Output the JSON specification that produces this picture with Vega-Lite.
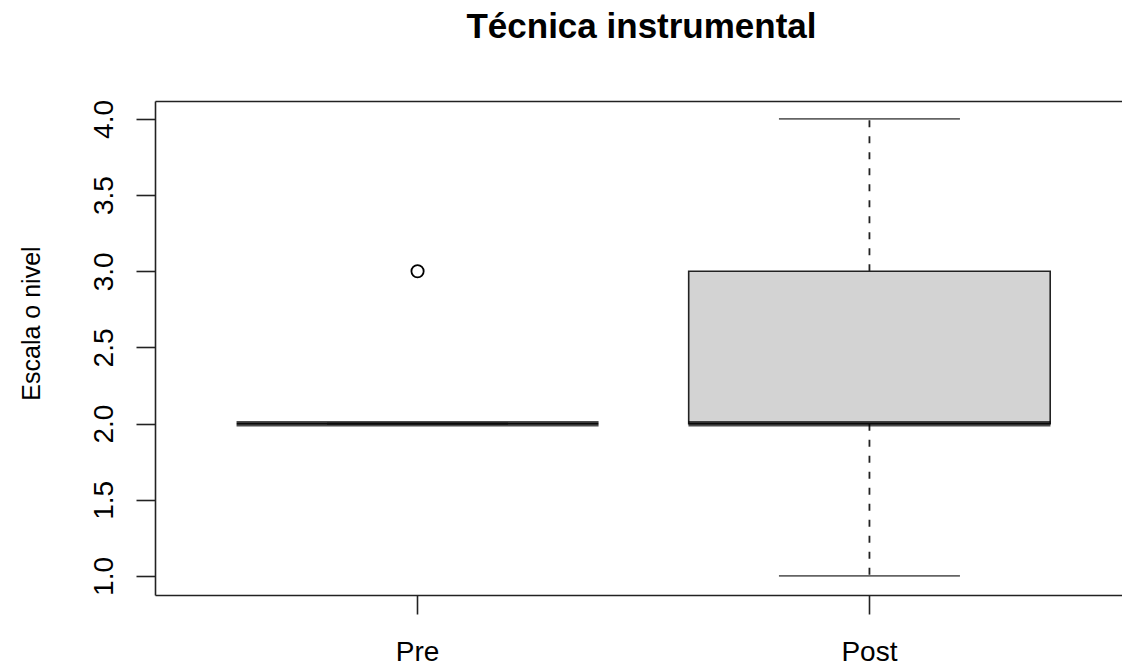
{
  "$schema": "https://vega.github.io/schema/vega-lite/v6.json",
  "width": 967,
  "height": 494,
  "autosize": "none",
  "padding": {"left": 155, "top": 101, "right": 0, "bottom": 71},
  "background": "white",
  "title": {"text": "Técnica instrumental", "font": "Liberation Sans", "fontSize": 35, "fontWeight": "bold", "color": "black", "anchor": "middle", "baseline": "alphabetic", "offset": 27, "dx": 3},
  "config": {
    "view": {"stroke": null},
    "axis": {"grid": false, "labelFont": "Liberation Sans", "titleFont": "Liberation Sans", "labelColor": "black", "titleColor": "black", "labelFontSize": 28, "titleFontSize": 25, "titleFontWeight": "normal", "tickColor": "#222", "tickWidth": 1.6, "domainColor": "#222", "domainWidth": 1.6, "tickSize": 19}
  },
  "datasets": {
    "resumen": [
      {"grupo": "Pre", "min": 2, "q1": 2, "mediana": 2, "q3": 2, "max": 2},
      {"grupo": "Post", "min": 1, "q1": 2, "mediana": 2, "q3": 3, "max": 4}
    ],
    "atipicos": [
      {"grupo": "Pre", "valor": 3}
    ]
  },
  "layer": [
    {
      "data": {"name": "resumen"},
      "mark": {"type": "rule", "strokeDash": [7, 9], "strokeWidth": 1.8, "color": "#222"},
      "encoding": {
        "x": {"field": "grupo", "type": "nominal", "sort": ["Pre", "Post"], "scale": {"type": "band", "range": [0, 977], "paddingInner": 0.2, "paddingOuter": 0.181}, "axis": {"orient": "top", "title": null, "labels": false, "ticks": false, "domain": true}},
        "y": {"field": "q1", "type": "quantitative", "title": "Escala o nivel", "scale": {"domain": [0.875, 4.118], "nice": false, "zero": false},
              "axis": {"values": [1, 1.5, 2, 2.5, 3, 3.5, 4], "format": ".1f", "labelAngle": 270, "labelAlign": "center", "labelBaseline": "alphabetic", "labelPadding": 24, "titleX": -116, "titleY": 222, "titleAngle": 270, "titleAlign": "center", "titleBaseline": "alphabetic", "domain": true}},
        "y2": {"field": "min"}
      }
    },
    {
      "data": {"name": "resumen"},
      "mark": {"type": "rule", "strokeDash": [7, 9], "strokeWidth": 1.8, "color": "#222"},
      "encoding": {
        "x": {"field": "grupo", "type": "nominal", "sort": ["Pre", "Post"], "axis": null},
        "y": {"field": "q3", "type": "quantitative", "title": "Escala o nivel"},
        "y2": {"field": "max"}
      }
    },
    {
      "data": {"name": "resumen"},
      "mark": {"type": "tick", "size": 181, "thickness": 1.8, "color": "#222"},
      "encoding": {
        "x": {"field": "grupo", "type": "nominal", "sort": ["Pre", "Post"], "axis": null},
        "y": {"field": "min", "type": "quantitative", "title": "Escala o nivel"}
      }
    },
    {
      "data": {"name": "resumen"},
      "mark": {"type": "tick", "size": 181, "thickness": 1.8, "color": "#222"},
      "encoding": {
        "x": {"field": "grupo", "type": "nominal", "sort": ["Pre", "Post"], "axis": null},
        "y": {"field": "max", "type": "quantitative", "title": "Escala o nivel"}
      }
    },
    {
      "data": {"name": "resumen"},
      "mark": {"type": "bar", "fill": "#D3D3D3", "stroke": "#222", "strokeWidth": 1.6},
      "encoding": {
        "x": {"field": "grupo", "type": "nominal", "sort": ["Pre", "Post"], "axis": null},
        "y": {"field": "q1", "type": "quantitative", "title": "Escala o nivel"},
        "y2": {"field": "q3"}
      }
    },
    {
      "data": {"name": "resumen"},
      "mark": {"type": "tick", "size": 362, "thickness": 5.5, "color": "black"},
      "encoding": {
        "x": {"field": "grupo", "type": "nominal", "sort": ["Pre", "Post"], "axis": {"orient": "bottom", "title": null, "labelAngle": 0, "labelBaseline": "alphabetic", "labelPadding": 46, "domain": true}},
        "y": {"field": "mediana", "type": "quantitative", "title": "Escala o nivel"}
      }
    },
    {
      "data": {"name": "atipicos"},
      "mark": {"type": "point", "shape": "circle", "filled": false, "size": 150, "strokeWidth": 1.8, "color": "black", "opacity": 1},
      "encoding": {
        "x": {"field": "grupo", "type": "nominal", "sort": ["Pre", "Post"], "axis": null},
        "y": {"field": "valor", "type": "quantitative", "title": "Escala o nivel"}
      }
    }
  ],
  "resolve": {"axis": {"x": "independent"}}
}
